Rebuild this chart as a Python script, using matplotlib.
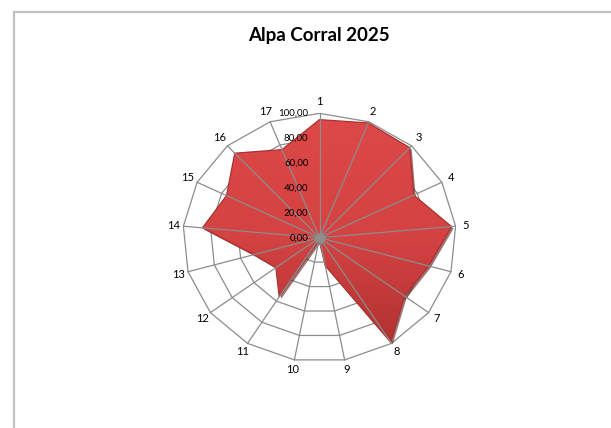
import numpy as np
import matplotlib
matplotlib.use("Agg")
import matplotlib.pyplot as plt
from matplotlib.patches import Polygon
from matplotlib.lines import Line2D
from matplotlib.colors import LinearSegmentedColormap
import matplotlib.transforms as mtransforms

# Data
categories = [str(i) for i in range(1, 18)]
values = [95, 99, 98, 77, 97, 83, 78, 99, 23, 2, 56, 40, 50, 86, 76, 92, 76]
ring_levels = [0, 20, 40, 60, 80, 100]
ring_labels = ["0,00", "20,00", "40,00", "60,00", "80,00", "100,00"]
title = "Alpa Corral 2025"

plt.rcParams["font.family"] = ["Lato", "DejaVu Sans"]

W, H = 611, 428
fig = plt.figure(figsize=(W / 100, H / 100), dpi=100)
fig.patch.set_facecolor("white")

# radar plot area (pixel geometry: centre and horizontal / vertical radii)
cx, cy = 319.5, 237.7
rx, ry = 136.7, 124.3
ax = fig.add_axes([(cx - rx) / W, (H - cy - ry) / H, 2 * rx / W, 2 * ry / H])
ax.axis("off")

grid = "#8C8C8C"
n = len(categories)
theta = np.arange(n) * 2 * np.pi / n
sx, sy = np.sin(theta), np.cos(theta)

# web rings
for lvl in ring_levels[1:]:
    ax.plot(np.append(sx, sx[0]) * lvl, np.append(sy, sy[0]) * lvl,
            color=grid, lw=0.9, zorder=1)

v = np.array(values, dtype=float)
pts = np.column_stack([sx * v, sy * v])

# soft shadow under the series
shadow_tr = mtransforms.offset_copy(ax.transData, fig=fig, x=2.0, y=-2.0, units="dots")
shadow = Polygon(pts, closed=True, facecolor="#5e1616", edgecolor="none",
                 alpha=0.6, transform=shadow_tr, zorder=2)
ax.add_patch(shadow)

# filled series with a vertical gradient
poly = Polygon(pts, closed=True, facecolor="none", edgecolor="#a83232",
               lw=0.9, zorder=3.5)
ax.add_patch(poly)
cmap = LinearSegmentedColormap.from_list("red_grad", ["#ad2f2f", "#d44242", "#de4848"])
grad = np.linspace(0, 1, 256).reshape(-1, 1)
img = ax.imshow(grad, extent=[-100, 100, -100, 100], origin="lower",
                aspect="auto", cmap=cmap, zorder=3, interpolation="bilinear")
img.set_clip_path(poly)

# spokes
for x, y in zip(sx, sy):
    ax.plot([0, x * 100], [0, y * 100], color=grid, lw=0.9, zorder=4)
ax.plot(0, 0, "o", ms=6.5, color="#8e8e8e", zorder=5)

ax.set_xlim(-100, 100)
ax.set_ylim(-100, 100)

# category labels
for lab, x, y in zip(categories, sx, sy):
    d = 10 + 1.5 * max(y, 0)
    ax.annotate(lab, (x * 100, y * 100), xytext=(x * d, y * d),
                textcoords="offset pixels", ha="center", va="center",
                fontsize=8, color="black", zorder=6)

# radial value labels
for lvl, lab in zip(ring_levels, ring_labels):
    ax.annotate(lab, (0, lvl), xytext=(-11, 0), textcoords="offset pixels",
                ha="right", va="center", fontsize=7, color="black", zorder=6)

# chart border
bx, by = 14 / W, 1 - 12 / H
fig.add_artist(Line2D([bx, bx], [0, by], transform=fig.transFigure,
                      color="#C0C0C0", lw=1.6))
fig.add_artist(Line2D([bx, 1], [by, by], transform=fig.transFigure,
                      color="#C0C0C0", lw=1.6))

fig.text(319 / W, 1 - 41 / H, title, ha="center", va="baseline",
         fontsize=13.5, fontweight="bold", color="black")

fig.savefig("out.png", dpi=100, facecolor="white")
